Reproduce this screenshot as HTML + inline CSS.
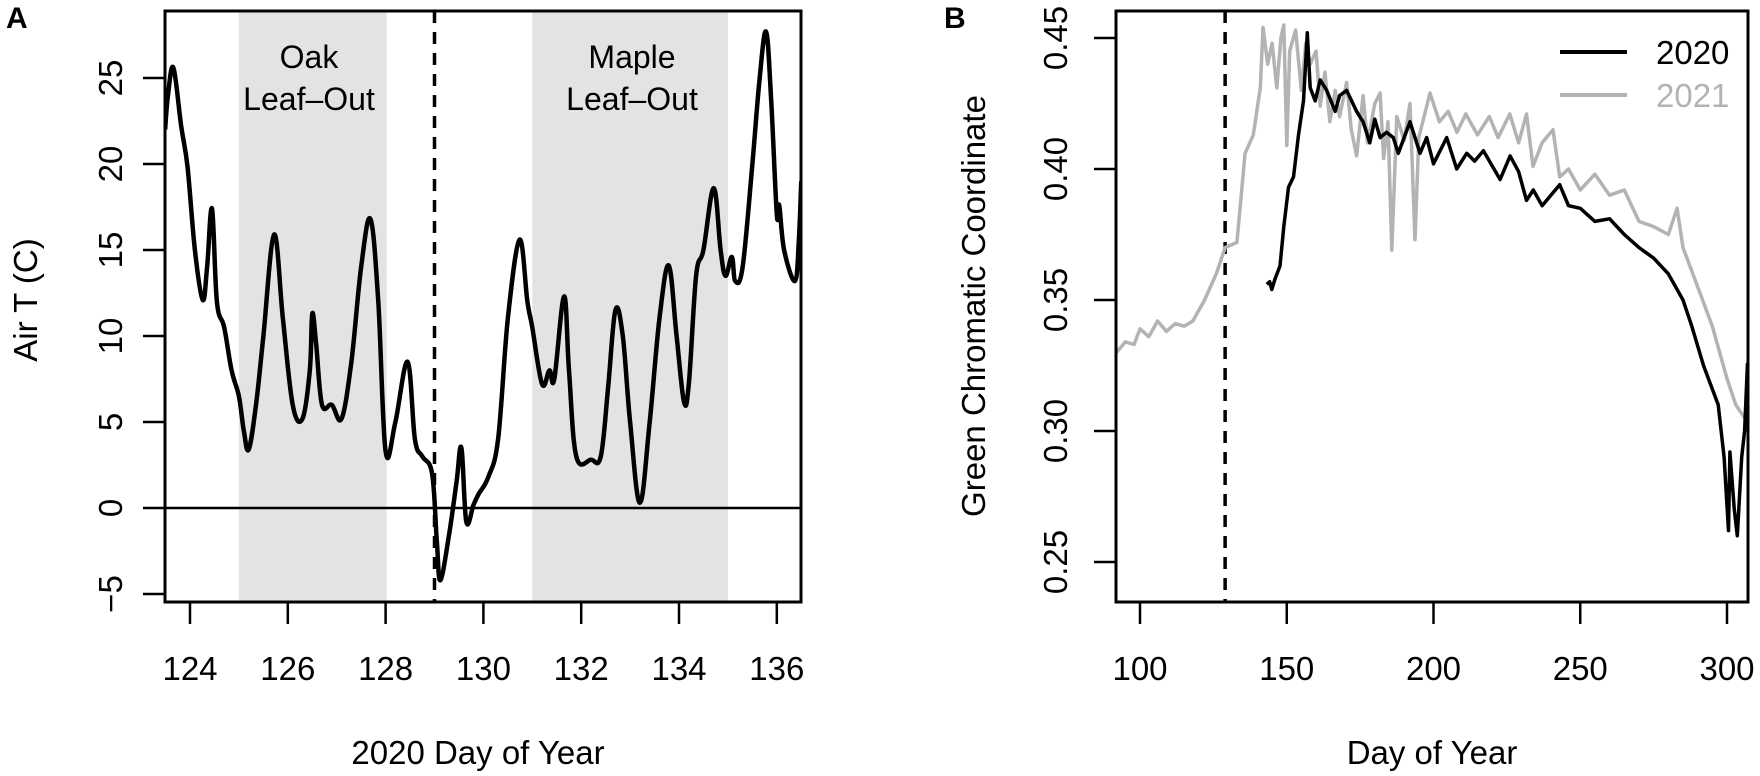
<!DOCTYPE html>
<html><head><meta charset="utf-8"><style>
html,body{margin:0;padding:0;background:#fff;}
svg{display:block;font-family:"Liberation Sans",Arial,sans-serif;}
</style></head><body>
<svg id="fig" width="1760" height="776" viewBox="0 0 1760 776"></svg>
<script>
// ---- Panel A data ----
const airDays=[123.49,123.55,123.66,123.82,123.95,124.1,124.26,124.35,124.45,124.55,124.7,124.85,125.0,125.1,125.2,125.35,125.5,125.72,125.9,126.1,126.3,126.45,126.5,126.58,126.7,126.9,127.1,127.3,127.5,127.69,127.85,128.0,128.2,128.45,128.6,128.75,128.95,129.05,129.12,129.3,129.45,129.55,129.65,129.8,129.9,130.1,130.3,130.5,130.74,130.9,131.0,131.2,131.35,131.45,131.65,131.75,131.9,132.2,132.4,132.55,132.7,132.85,133.0,133.2,133.4,133.6,133.79,133.95,134.1,134.2,134.35,134.5,134.71,134.85,134.95,135.08,135.15,135.3,135.5,135.65,135.78,135.88,136.0,136.05,136.15,136.37,136.45,136.5];
const airTemps=[22,24,25.6,22.2,19.8,15,12.1,14,17.4,12,10.5,8,6.5,4.5,3.4,6,10,15.9,11,6,5.2,8,11.3,9.5,6,6,5.2,8.5,14,16.8,12,3.3,5,8.5,4,3,2,-2,-4.2,-1.5,1.5,3.5,-0.8,0.2,0.8,1.8,4,11,15.6,12,10.5,7.2,8,7.5,12.3,8,3,2.8,3,7,11.5,10,5,0.3,5,11,14.1,10,6.2,7.2,13.5,15,18.6,15,13.5,14.6,13.2,14,20,25,27.7,24,17.1,17.6,15,13.2,15.5,19];
const shadeRanges=[[125,128.02],[131,135]];
const aXTicks=[124,126,128,130,132,134,136];
const aYTicks=[-5,0,5,10,15,20,25];
const dashDayA=129;
// ---- Panel B data ----
const gcc2021Days=[92,95,98,100,103,106,109,112,115,118,122,126,129,133,135.8,138.6,141,141.9,143.5,145,146.6,148,149,150,151,153,155,156.5,158,160,161.4,163,164.7,166.5,168,170.4,172,173.8,176,177.5,180,181.8,183,184.5,185.8,187.5,190,192,193.7,195,198.8,202,205,208,211,215,219,222,226,229,231.7,233.9,237,240.7,243,246,250,255,260,265,270,275,280,283,285,290,295,300,303,306,308];
const gcc2021Vals=[0.330,0.334,0.333,0.339,0.336,0.342,0.338,0.341,0.340,0.342,0.350,0.360,0.370,0.372,0.406,0.413,0.431,0.454,0.440,0.448,0.431,0.450,0.455,0.409,0.445,0.453,0.430,0.448,0.440,0.445,0.424,0.437,0.418,0.430,0.420,0.433,0.415,0.405,0.428,0.410,0.425,0.429,0.404,0.418,0.369,0.420,0.411,0.425,0.373,0.412,0.429,0.418,0.422,0.414,0.421,0.413,0.420,0.412,0.421,0.410,0.421,0.401,0.410,0.415,0.397,0.400,0.392,0.398,0.390,0.392,0.380,0.378,0.375,0.385,0.370,0.355,0.340,0.320,0.310,0.305,0.296];
const gcc2020Days=[143.2,144.2,144.9,146,147.7,149,150.6,152.3,154,155.7,157,158,159.7,161.4,163.6,166.5,168,170.4,173.8,176,178.3,180,181.8,184,186.3,188,192,195.4,197.7,200,204.5,207.9,211.3,214,217,222.7,226.1,229,231.7,234,237,240,243,246,250,255,260,265,270,275,280,285,288,292,297,299,300.5,301,302.5,303.5,305,306,307];
const gcc2020Vals=[0.356,0.357,0.354,0.358,0.363,0.378,0.393,0.397,0.413,0.426,0.452,0.431,0.426,0.434,0.430,0.422,0.428,0.430,0.422,0.418,0.410,0.419,0.412,0.414,0.412,0.406,0.418,0.406,0.412,0.402,0.412,0.400,0.406,0.403,0.407,0.396,0.405,0.399,0.388,0.392,0.386,0.390,0.394,0.386,0.385,0.380,0.381,0.375,0.370,0.366,0.360,0.350,0.340,0.325,0.310,0.290,0.262,0.292,0.270,0.260,0.290,0.300,0.326];
const bXTicks=[100,150,200,250,300];
const bYTicks=[0.25,0.30,0.35,0.40,0.45];
const dashDayB=129;

const NS="http://www.w3.org/2000/svg";
const svg=document.getElementById('fig');
function mk(tag,attrs,parent){const e=document.createElementNS(NS,tag);for(const k in attrs)e.setAttribute(k,attrs[k]);(parent||svg).appendChild(e);return e;}
function smoothPath(pts){
  let d='M'+pts[0][0].toFixed(1)+','+pts[0][1].toFixed(1);
  for(let i=0;i<pts.length-1;i++){
    const p0=pts[Math.max(0,i-1)],p1=pts[i],p2=pts[i+1],p3=pts[Math.min(pts.length-1,i+2)];
    const k=0.18;
    const c1=[p1[0]+(p2[0]-p0[0])*k,p1[1]+(p2[1]-p0[1])*k];
    const c2=[p2[0]-(p3[0]-p1[0])*k,p2[1]-(p3[1]-p1[1])*k];
    d+=' C'+c1[0].toFixed(1)+','+c1[1].toFixed(1)+' '+c2[0].toFixed(1)+','+c2[1].toFixed(1)+' '+p2[0].toFixed(1)+','+p2[1].toFixed(1);
  }
  return d;
}

const A={l:165,r:801,t:11,b:602};
const ax=d=>190+(d-124)*48.9;
const ay=v=>508-v*17.2;
const B={l:1116,r:1748,t:11,b:602};
const bx=d=>1140+(d-100)*2.935;
const by=v=>38+(0.45-v)*2620;

// ---- Panel A ----
const gA=mk('g',{});


const cpA=mk('clipPath',{id:'clipA'},gA);mk('rect',{x:A.l,y:A.t,width:A.r-A.l,height:A.b-A.t},cpA);
shadeRanges.forEach((r,i)=>{
  const e=mk('rect',{x:ax(r[0]),y:A.t,width:ax(r[1])-ax(r[0]),height:A.b-A.t,fill:'#e3e3e3'},gA);
  
  
});
let t=mk('text',{x:309,y:68,'font-size':32,'text-anchor':'middle'},gA);t.textContent='Oak';

t=mk('text',{x:309,y:110,'font-size':32,'text-anchor':'middle'},gA);t.textContent='Leaf\u2013Out';

t=mk('text',{x:632,y:68,'font-size':32,'text-anchor':'middle'},gA);t.textContent='Maple';

t=mk('text',{x:632,y:110,'font-size':32,'text-anchor':'middle'},gA);t.textContent='Leaf\u2013Out';

let e=mk('line',{x1:A.l,x2:A.r,y1:ay(0),y2:ay(0),stroke:'#000','stroke-width':2.5},gA);

e=mk('line',{x1:ax(dashDayA),x2:ax(dashDayA),y1:A.t,y2:A.b,stroke:'#000','stroke-width':3.5,'stroke-dasharray':'12 9'},gA);

e=mk('path',{d:smoothPath(airDays.map((d,i)=>[ax(d),ay(airTemps[i])])),fill:'none',stroke:'#000','stroke-width':4.5,'stroke-linejoin':'round','clip-path':'url(#clipA)'},gA);

e=mk('rect',{x:A.l,y:A.t,width:A.r-A.l,height:A.b-A.t,fill:'none',stroke:'#000','stroke-width':3},gA);

aXTicks.forEach(v=>{
  const l=mk('line',{x1:ax(v),x2:ax(v),y1:A.b,y2:A.b+22,stroke:'#000','stroke-width':2.5},gA);
  
  const tx=mk('text',{x:ax(v),y:680,'font-size':33,'text-anchor':'middle'},gA);tx.textContent=v;
  
});
aYTicks.forEach(v=>{
  const l=mk('line',{x1:A.l-22,x2:A.l,y1:ay(v),y2:ay(v),stroke:'#000','stroke-width':2.5},gA);
  
  const tx=mk('text',{x:0,y:0,'font-size':33,'text-anchor':'middle',transform:`translate(122,${ay(v)}) rotate(-90)`},gA);tx.textContent=v<0?'\u2212'+(-v):v;
  
});
t=mk('text',{x:478,y:764,'font-size':33,'text-anchor':'middle'},gA);t.textContent='2020 Day of Year';

t=mk('text',{x:0,y:0,'font-size':33,'text-anchor':'middle',transform:'translate(37,300) rotate(-90)'},gA);t.textContent='Air T (C)';

t=mk('text',{x:6,y:28,'font-size':30,'font-weight':'bold'},gA);t.textContent='A';


// ---- Panel B ----
const gB=mk('g',{});


const cp=mk('clipPath',{id:'clipB'},gB);mk('rect',{x:B.l,y:B.t,width:B.r-B.l,height:B.b-B.t},cp);
e=mk('line',{x1:bx(dashDayB),x2:bx(dashDayB),y1:B.t,y2:B.b,stroke:'#000','stroke-width':3.5,'stroke-dasharray':'12 9'},gB);

e=mk('polyline',{points:gcc2021Days.map((d,i)=>bx(d).toFixed(1)+','+by(gcc2021Vals[i]).toFixed(1)).join(' '),fill:'none',stroke:'#b3b3b3','stroke-width':3.5,'stroke-linejoin':'round','clip-path':'url(#clipB)'},gB);

e=mk('polyline',{points:gcc2020Days.map((d,i)=>bx(d).toFixed(1)+','+by(gcc2020Vals[i]).toFixed(1)).join(' '),fill:'none',stroke:'#000','stroke-width':3.5,'stroke-linejoin':'round','clip-path':'url(#clipB)'},gB);

e=mk('rect',{x:B.l,y:B.t,width:B.r-B.l,height:B.b-B.t,fill:'none',stroke:'#000','stroke-width':3},gB);

bXTicks.forEach(v=>{
  const l=mk('line',{x1:bx(v),x2:bx(v),y1:B.b,y2:B.b+22,stroke:'#000','stroke-width':2.5},gB);
  
  const tx=mk('text',{x:bx(v),y:680,'font-size':33,'text-anchor':'middle'},gB);tx.textContent=v;
  
});
bYTicks.forEach(v=>{
  const l=mk('line',{x1:B.l-22,x2:B.l,y1:by(v),y2:by(v),stroke:'#000','stroke-width':2.5},gB);
  
  const tx=mk('text',{x:0,y:0,'font-size':33,'text-anchor':'middle',transform:`translate(1067,${by(v)}) rotate(-90)`},gB);tx.textContent=v.toFixed(2);
  
});
t=mk('text',{x:1432,y:764,'font-size':33,'text-anchor':'middle'},gB);t.textContent='Day of Year';

t=mk('text',{x:0,y:0,'font-size':33,'text-anchor':'middle',transform:'translate(985,306) rotate(-90)'},gB);t.textContent='Green Chromatic Coordinate';

t=mk('text',{x:944,y:28,'font-size':30,'font-weight':'bold'},gB);t.textContent='B';

const lg=mk('g',{},gB);


e=mk('line',{x1:1560,x2:1627,y1:52,y2:52,stroke:'#000','stroke-width':4},lg);

t=mk('text',{x:1656,y:64,'font-size':33},lg);t.textContent='2020';

e=mk('line',{x1:1560,x2:1627,y1:95,y2:95,stroke:'#b3b3b3','stroke-width':4},lg);

t=mk('text',{x:1656,y:107,'font-size':33,fill:'#b3b3b3'},lg);t.textContent='2021';

</script>
</body></html>
